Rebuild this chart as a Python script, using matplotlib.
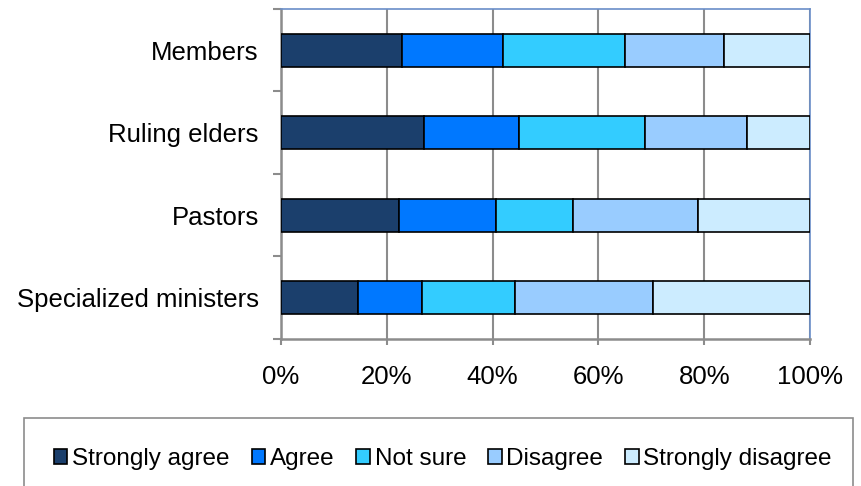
import matplotlib
matplotlib.use("Agg")
import matplotlib.pyplot as plt
from matplotlib.patches import Rectangle, Patch

plt.rcParams['font.family'] = ['Liberation Sans', 'DejaVu Sans']

categories = ["Members", "Ruling elders", "Pastors", "Specialized ministers"]
responses = ["Strongly agree", "Agree", "Not sure", "Disagree", "Strongly disagree"]
strongly_agree = [22.9, 27.0, 22.4, 14.6]
agree = [19.1, 18.0, 18.2, 12.1]
not_sure = [23.0, 23.8, 14.6, 17.6]
disagree = [18.8, 19.2, 23.7, 26.0]
strongly_disagree = [16.2, 12.0, 21.1, 29.7]
colors = ["#1B3F6C", "#0078FF", "#33CCFF", "#99CCFF", "#CCECFF"]
xtick_values = [0, 20, 40, 60, 80, 100]
xtick_labels = ["0%", "20%", "40%", "60%", "80%", "100%"]

series = [strongly_agree, agree, not_sure, disagree, strongly_disagree]

fig = plt.figure(figsize=(8.61, 4.86), dpi=100)
ax = fig.add_axes([281/861, 1 - 338.7/486, (810 - 281)/861, (338.7 - 9)/486])

ypos = list(range(len(categories)))[::-1]
left = [0.0] * len(categories)
for vals, col, name in zip(series, colors, responses):
    ax.barh(ypos, vals, left=left, height=0.4, color=col, edgecolor="black",
            linewidth=1.2, label=name, zorder=3)
    left = [l + v for l, v in zip(left, vals)]

ax.set_xlim(0, 100)
ax.set_ylim(-0.5, len(categories) - 0.5)
ax.set_xticks(xtick_values)
ax.set_xticklabels(xtick_labels, fontsize=18.5)
ax.set_yticks(ypos)
ax.set_yticklabels(categories, fontsize=18.5)
ax.set_yticks([y - 0.5 for y in range(len(categories) + 1)], minor=True)

ax.xaxis.grid(True, color="#8C8C8C", linewidth=1.5, zorder=0)
ax.tick_params(axis="y", which="major", length=0, pad=16)
ax.tick_params(axis="y", which="minor", length=6, width=1.5, color="#8C8C8C")
ax.tick_params(axis="x", which="major", length=4, width=1.5, color="#8C8C8C", pad=15)

for side in ("left", "bottom"):
    ax.spines[side].set_color("#8C8C8C")
    ax.spines[side].set_linewidth(1.8)
for side in ("top", "right"):
    ax.spines[side].set_color("#6A8EC8")
    ax.spines[side].set_linewidth(1.2)

# legend frame running off the lower edge
fig.patches.append(Rectangle((24/861, -0.05), (853 - 24)/861, 1 - 418/486 + 0.05,
                             transform=fig.transFigure, facecolor="white",
                             edgecolor="#8C8C8C", linewidth=1.2))
handles = [Patch(facecolor=c, edgecolor="black", linewidth=1.2) for c in colors]
fig.legend(handles, responses, loc="center", bbox_to_anchor=(443/861, 1 - 459/486),
           ncol=5, frameon=False, fontsize=17.5, handlelength=0.55, handleheight=0.55,
           handletextpad=0.2, columnspacing=0.9, borderaxespad=0)

fig.savefig("out.png", dpi=100)
